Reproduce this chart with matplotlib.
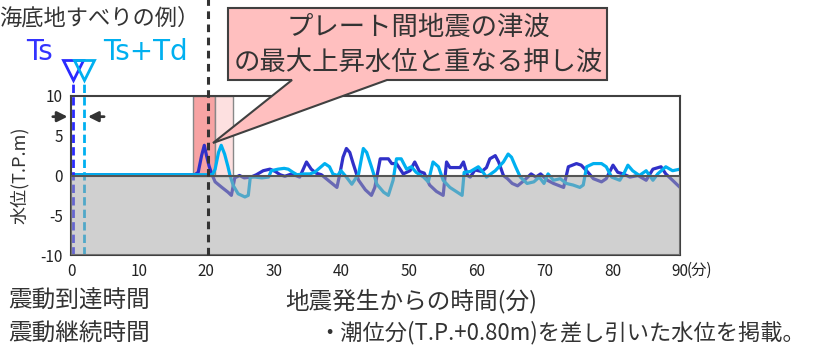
import numpy as np
import matplotlib
matplotlib.use("Agg")
import matplotlib.pyplot as plt
from matplotlib.patches import Polygon

plt.rcParams['font.family'] = ['Noto Sans CJK JP', 'DejaVu Sans']

# water level, Ts case (minutes, T.P.m)
t_ts = [0, 18.3, 18.8, 19.3, 19.7, 20.0, 20.4, 20.8, 21.3, 22.3, 23.2, 23.7, 24.2, 24.9,
        25.6, 26.6, 27.4, 28.4, 29.4, 30.2, 30.9, 31.6, 32.6, 33.8, 34.8, 35.5, 36.2, 37.0,
        38.0, 39.3, 39.8, 40.2, 40.7, 41.2, 41.7, 42.5, 43.5, 44.4, 44.9, 45.7, 46.9, 47.4,
        48.1, 49.1, 50.1, 50.8, 51.5, 52.2, 53.0, 54.0, 55.0, 55.5, 56.0, 57.5, 58.0, 58.6,
        59.0, 59.7, 60.7, 61.4, 61.9, 62.7, 63.2, 63.9, 64.5, 65.2, 66.0, 67.0, 68.0, 68.7,
        69.4, 70.4, 71.3, 72.8, 73.5, 74.7, 75.4, 76.4, 77.2, 78.4, 79.1, 80.1, 80.8, 81.6,
        82.6, 83.8, 85.0, 86.0, 87.2, 87.9, 88.9, 90.0]
h_ts = [0.1, 0.1, 0.4, 2.5, 3.8, 2.6, 1.2, 0.2, -0.8, -1.5, -2.1, -2.5, -0.3, 0.0,
        -0.3, -0.2, 0.1, 0.6, 0.8, 0.5, 0.1, -0.1, 0.2, -0.2, 1.7, 0.8, 0.3, 0.1,
        -0.6, -1.5, 0.5, 2.3, 3.4, 2.9, 1.5, -0.6, -1.8, -2.5, -1.5, 2.1, 2.1, 1.5,
        1.5, 0.2, 0.6, 1.7, 0.5, 0.3, -1.2, -2.0, -2.5, 1.7, 1.0, 1.0, 1.7, 0.0,
        -0.2, 0.7, 0.5, 1.0, 2.1, 2.5, 1.7, 0.0, -0.4, -1.0, -1.3, -0.6, 0.2, -0.2,
        0.2, -0.6, -1.0, -1.5, 1.1, 1.5, 1.3, 0.4, -0.4, -0.8, -0.4, 1.3, 0.4, 0.2,
        -0.2, 0.0, -0.6, 0.8, 1.1, 0.2, -0.6, -1.5]

# water level, Ts+Td case
t_tstd = [0, 20.9, 21.3, 21.8, 22.2, 22.7, 23.2, 23.5, 24.0, 24.7, 25.7, 26.2, 26.5, 27.2,
          28.2, 29.2, 29.6, 30.6, 31.5, 32.1, 32.8, 33.4, 34.5, 35.3, 36.0, 37.5, 38.2, 38.7,
          39.4, 39.9, 40.7, 41.5, 42.5, 43.2, 43.7, 44.4, 45.2, 46.2, 46.9, 47.6, 48.1, 48.8,
          49.6, 50.3, 51.0, 52.1, 52.8, 53.5, 54.3, 55.0, 56.0, 57.8, 58.1, 59.0, 60.2, 60.9,
          61.4, 62.7, 63.9, 64.6, 65.1, 65.7, 66.4, 67.4, 68.4, 69.2, 69.9, 70.5, 71.3, 72.3,
          73.2, 74.2, 75.2, 75.7, 76.2, 77.2, 78.4, 79.1, 79.9, 81.1, 81.8, 82.3, 83.0, 84.0,
          85.0, 86.0, 86.7, 87.9, 88.9, 90.0]
h_tstd = [0.1, 0.1, 0.8, 2.9, 3.8, 2.7, 1.1, 0.0, -1.3, -2.3, -2.7, -2.5, -0.2, -0.2,
          -0.3, -0.2, 0.6, 0.8, 0.9, 0.8, 0.4, 0.1, 0.2, 0.2, 0.4, 1.5, 1.1, 0.2,
          0.0, 0.6, -0.2, -1.1, 0.2, 3.4, 2.9, 1.1, -1.1, -2.1, -2.5, -0.6, 2.1, 2.1,
          0.8, 1.1, 0.4, -0.2, -0.8, 1.7, 1.1, -0.6, -1.5, -2.5, 0.4, 0.5, 1.1, 0.4,
          -0.2, 0.6, 1.7, 2.7, 2.3, 1.1, -0.2, -1.0, -0.8, -0.2, -1.0, 0.2, -0.6, -0.4,
          -1.0, -1.2, -1.5, -1.2, 1.1, 1.5, 1.5, 1.1, -0.2, -0.6, 0.4, 1.3, 0.6, 0.0,
          0.6, -0.6, 0.2, 1.1, 0.6, 0.8]

ts = 0.25          # 地震動到達時間
ts_td = 1.9        # 到達 + 継続
quake_wave = 20.2  # プレート間地震の最大上昇水位
band_dark = (18.0, 21.3)
band_light = (21.3, 23.9)

xticks = [0, 10, 20, 30, 40, 50, 60, 70, 80, 90]
yticks = [10, 5, 0, -5, -10]

W, H = 818, 347
def fx(px):
    return px / W
def fy(py):
    return 1 - py / H

c_ts = '#3030c8'
c_tstd = '#00b0f0'
c_txt = '#333333'

fig = plt.figure(figsize=(W / 100, H / 100), dpi=100)
ax = fig.add_axes([fx(71), fy(255), (680 - 71) / W, (255 - 96) / H])
ax.set_xlim(0, 90)
ax.set_ylim(-10, 10)

# shaded time bands
ax.axvspan(*band_dark, ymin=0.5, ymax=1, facecolor='#f7a3a3', edgecolor='#888888', lw=1, zorder=1)
ax.axvspan(*band_light, ymin=0.5, ymax=1, facecolor='#fde0e0', edgecolor='#888888', lw=1, zorder=1)

ax.plot(t_ts, h_ts, color=c_ts, lw=2.3, zorder=2)
ax.plot(t_tstd, h_tstd, color=c_tstd, lw=2.3, zorder=2)

# Ts, Ts+Td markers
ax.plot([ts, ts], [-10, 12.2], color='#2a2aff', lw=2, ls=(0, (3, 1.5)), clip_on=False, zorder=2)
ax.plot([ts_td, ts_td], [-10, 12.2], color=c_tstd, lw=2, ls=(0, (3, 1.5)), clip_on=False, zorder=2)
ax.plot([ts], [13.3], marker='v', ms=15, mfc='none', mec='#2a2aff', mew=2, clip_on=False)
ax.plot([ts_td], [13.3], marker='v', ms=15, mfc='none', mec=c_tstd, mew=2, clip_on=False)
ax.annotate('', xy=(-0.1, 7.4), xytext=(-3.1, 7.4), annotation_clip=False,
            arrowprops=dict(arrowstyle='-|>', color='#333333', lw=2, mutation_scale=15))
ax.annotate('', xy=(2.1, 7.4), xytext=(5.3, 7.4), annotation_clip=False,
            arrowprops=dict(arrowstyle='-|>', color='#333333', lw=2, mutation_scale=15))

# below sea level shading
ax.axhspan(-10, 0, color='#a2a2a2', alpha=0.5, lw=0, zorder=3)
ax.axhline(0, color='#555555', lw=1.5, zorder=4)

ax.plot([quake_wave, quake_wave], [-10, 23], color='#333333', lw=2.2, ls=(0, (2.5, 1.8)),
        clip_on=False, zorder=5)

for s in ax.spines.values():
    s.set_color('#404040')
    s.set_linewidth(1.5)
ax.set_xticks(xticks)
ax.set_xticklabels([str(v) for v in xticks])
ax.set_yticks(yticks)
ax.set_yticklabels([str(v) for v in yticks])
ax.tick_params(length=0, labelsize=11, colors='#222222', pad=6)
ax.set_ylabel('水位(T.P.m)', fontsize=13, color=c_txt, labelpad=8)
ax.text(91.0, -0.094, '(分)', transform=ax.get_xaxis_transform(), fontsize=11,
        ha='left', va='center', color='#222222')

# callout
pts = [(228, 8), (607, 8), (607, 80), (387, 80), (213, 143), (292, 80), (228, 80)]
callout = Polygon([(fx(x), fy(y)) for x, y in pts], closed=True, transform=fig.transFigure,
                  facecolor='#ffbfbf', edgecolor='#404040', lw=1.5, zorder=10)
fig.patches.append(callout)
fig.text(fx(418), fy(27), 'プレート間地震の津波', fontsize=19, ha='center', va='center',
         color=c_txt, zorder=11)
fig.text(fx(418), fy(62), 'の最大上昇水位と重なる押し波', fontsize=19, ha='center', va='center',
         color=c_txt, zorder=11)

fig.text(fx(199), fy(18), '海底地すべりの例）', fontsize=16, ha='right', va='center', color=c_txt)
fig.text(fx(40), fy(52), 'Ts', fontsize=20, ha='center', va='center', color='#3333ff',
         family='DejaVu Sans')
fig.text(fx(145), fy(52), 'Ts+Td', fontsize=20, ha='center', va='center', color=c_tstd,
         family='DejaVu Sans')

fig.text(fx(150), fy(301), '震動到達時間', fontsize=17, ha='right', va='center', color=c_txt)
fig.text(fx(150), fy(334), '震動継続時間', fontsize=17, ha='right', va='center', color=c_txt)
fig.text(fx(285), fy(301), '地震発生からの時間(分)', fontsize=17, ha='left', va='center', color=c_txt)
fig.text(fx(318), fy(333), '・潮位分(T.P.+0.80m)を差し引いた水位を掲載。', fontsize=16,
         ha='left', va='center', color=c_txt)

fig.savefig('out.png', dpi=100)
